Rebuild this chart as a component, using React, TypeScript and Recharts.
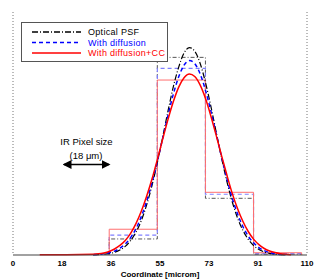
import React from "react";
import { ComposedChart, Line, XAxis, YAxis, CartesianGrid } from "recharts";

// ---- data ----
const curveX = [10, 20, 30, 32, 34, 36, 38, 40, 42, 44, 46, 48, 50, 52, 54, 56, 58, 60, 62, 64, 66, 68, 70, 72, 74, 76, 78, 80, 82, 84, 86, 88, 90, 92, 94, 96, 98, 100, 102, 104];
const opticalPSF = [null, null, 0.01, 0.02, 0.05, 0.09, 0.17, 0.31, 0.53, 0.89, 1.4, 2.12, 3.09, 4.29, 5.7, 7.27, 8.89, 10.4, 11.6, 12.47, 12.8, 12.58, 11.84, 10.66, 9.2, 7.6, 6.02, 4.56, 3.3, 2.29, 1.53, 0.97, 0.59, 0.34, 0.19, 0.1, 0.05, 0.02, 0.01, null];
const withDiffusion = [null, null, 0.02, 0.04, 0.07, 0.14, 0.24, 0.42, 0.68, 1.07, 1.62, 2.37, 3.32, 4.46, 5.78, 7.2, 8.63, 9.94, 11.0, 11.72, 12.0, 11.81, 11.19, 10.18, 8.91, 7.5, 6.08, 4.73, 3.52, 2.54, 1.76, 1.17, 0.75, 0.46, 0.27, 0.15, 0.08, 0.04, 0.02, null];
const withDiffusionCC = [0.01, 0.01, 0.04, 0.07, 0.13, 0.22, 0.37, 0.59, 0.9, 1.34, 1.94, 2.7, 3.63, 4.69, 5.89, 7.15, 8.37, 9.47, 10.36, 10.94, 11.17, 11.02, 10.5, 9.67, 8.6, 7.4, 6.15, 4.95, 3.82, 2.87, 2.08, 1.45, 0.98, 0.64, 0.4, 0.25, 0.15, 0.08, 0.04, 0.02];

const stepX = [36, 36, 54, 72, 90, 108];
const opticalStep = [0, 0.99, 12.2, 3.5, 0.05, 0];
const diffusionStep = [0, 1.23, 11.52, 3.75, 0.08, 0];
const diffusionCCStep = [0, 1.59, 10.8, 3.87, 0.14, 0];

const xTicks = [0, 18.333, 36.667, 55, 73.333, 91.667, 110];
const yTicks = [0, 1, 2, 3, 4, 5, 6, 7, 8, 9, 10, 11, 12, 13, 14, 15];
const majorYTicks = [0, 5, 10, 15];

const legendItems = [
  { label: "Optical PSF", color: "#000000", dash: "6 2 1 2" },
  { label: "With diffusion", color: "#0000ff", dash: "4 3" },
  { label: "With diffusion+CC", color: "#ff0000", dash: "" },
];

// ---- layout ----
const W = 316;
const H = 280;
const PL = 13;
const PR = 307;
const PT = 12;
const PB = 255;
const FONT = "'Liberation Sans', Arial, sans-serif";

const curveData = curveX.map((x, i) => ({
  x,
  optical: opticalPSF[i],
  diff: withDiffusion[i],
  cc: withDiffusionCC[i],
}));
const stepData = stepX.map((x, i) => ({
  x,
  optical: opticalStep[i],
  diff: diffusionStep[i],
  cc: diffusionCCStep[i],
}));

const makeYTick = (side: "left" | "right") => (props: any) => {
  const { y, payload } = props;
  const len = majorYTicks.includes(payload.value) ? 6 : 3;
  if (payload.value === 0 || payload.value === 15) return <g />;
  const x0 = side === "left" ? PL : PR;
  const x1 = side === "left" ? PL + len : PR - len;
  return <line x1={x0} x2={x1} y1={y} y2={y} stroke="#444" strokeWidth={1} />;
};

export default function App() {
  return (
    <div style={{ position: "absolute", left: 0, top: 0, width: W, height: H, background: "#fff", fontFamily: FONT }}>
      <ComposedChart
        width={W}
        height={H}
        margin={{ top: PT, right: W - PR, left: PL, bottom: 0 }}
      >
        <CartesianGrid
          horizontal={false}
          vertical={true}
          stroke="#777"
          strokeDasharray="1 2"
        />
        <XAxis
          xAxisId="b"
          type="number"
          dataKey="x"
          domain={[0, 110]}
          allowDataOverflow
          ticks={xTicks}
          tickFormatter={(v: number) => String(Math.floor(v))}
          height={H - PB}
          tickLine={false}
          tickSize={3}
          axisLine={{ stroke: "#444", strokeWidth: 1.2 }}
          tick={{ fontSize: 8, fontWeight: "bold", fill: "#000", fontFamily: FONT }}
          label={{ value: "Coordinate [microm]", position: "insideBottom", offset: 3, style: { fontSize: 8, fontWeight: "bold", fill: "#000", fontFamily: FONT } }}
        />
        <XAxis
          xAxisId="t"
          orientation="top"
          type="number"
          dataKey="x"
          domain={[0, 110]}
          allowDataOverflow
          height={0}
          tick={false}
          tickLine={false}
          axisLine={{ stroke: "#888" }}
        />
        <YAxis
          yAxisId="l"
          type="number"
          domain={[0, 15]}
          ticks={yTicks}
          width={0}
          tickLine={false}
          axisLine={{ stroke: "#555", strokeWidth: 1.5 }}
          tick={makeYTick("left")}
        />
        <YAxis
          yAxisId="r"
          orientation="right"
          type="number"
          domain={[0, 15]}
          ticks={yTicks}
          width={0}
          tickLine={false}
          axisLine={{ stroke: "#888" }}
          tick={makeYTick("right")}
        />
        {/* step histograms */}
        <Line xAxisId="b" yAxisId="l" data={stepData} dataKey="optical" type="stepAfter" stroke="#555" strokeWidth={1} strokeDasharray="4 2 1 2" dot={false} isAnimationActive={false} />
        <Line xAxisId="b" yAxisId="l" data={stepData} dataKey="diff" type="stepAfter" stroke="#7f7fff" strokeWidth={1.2} strokeDasharray="4 3" dot={false} isAnimationActive={false} />
        <Line xAxisId="b" yAxisId="l" data={stepData} dataKey="cc" type="stepAfter" stroke="#ff7070" strokeWidth={1} dot={false} isAnimationActive={false} />
        {/* curves */}
        <Line xAxisId="b" yAxisId="l" data={curveData} dataKey="optical" type="monotone" stroke="#000" strokeWidth={1.2} strokeDasharray="6 2 1 2" dot={false} isAnimationActive={false} />
        <Line xAxisId="b" yAxisId="l" data={curveData} dataKey="diff" type="monotone" stroke="#0000ff" strokeWidth={1.5} strokeDasharray="4 3" dot={false} isAnimationActive={false} />
        <Line xAxisId="b" yAxisId="l" data={curveData} dataKey="cc" type="monotone" stroke="#ff0000" strokeWidth={1.5} dot={false} isAnimationActive={false} />
      </ComposedChart>

      {/* legend */}
      <div style={{ position: "absolute", left: 21, top: 22, width: 145, height: 38, border: "1px solid #555", background: "#fff" }}>
        <svg width={145} height={38} style={{ position: "absolute", left: 0, top: 0 }}>
          {legendItems.map((it, i) => (
            <g key={it.label}>
              <line x1={10} x2={59} y1={9 + i * 10.5} y2={9 + i * 10.5} stroke={it.color} strokeWidth={1.5} strokeDasharray={it.dash || undefined} />
              <text x={66} y={9 + i * 10.5} dy="0.35em" fontSize={9} fill={it.color} fontFamily={FONT} letterSpacing={0.3}>{it.label}</text>
            </g>
          ))}
        </svg>
      </div>

      {/* annotation */}
      <svg width={W} height={H} style={{ position: "absolute", left: 0, top: 0, pointerEvents: "none" }}>
        <defs>
          <marker id="ah" markerWidth="6" markerHeight="6" refX="5" refY="3" orient="auto-start-reverse">
            <path d="M0,0 L6,3 L0,6 Z" fill="#000" />
          </marker>
        </defs>
        <text x={86.5} y={141.5} dy="0.35em" textAnchor="middle" fontSize={9.5} fill="#000" fontFamily={FONT}>IR Pixel size</text>
        <text x={86} y={156} dy="0.35em" textAnchor="middle" fontSize={9.5} fill="#000" fontFamily={FONT}>(18 μm)</text>
        <line x1={64} x2={109} y1={164.5} y2={164.5} stroke="#000" strokeWidth={1.5} markerStart="url(#ah)" markerEnd="url(#ah)" />
      </svg>
    </div>
  );
}
